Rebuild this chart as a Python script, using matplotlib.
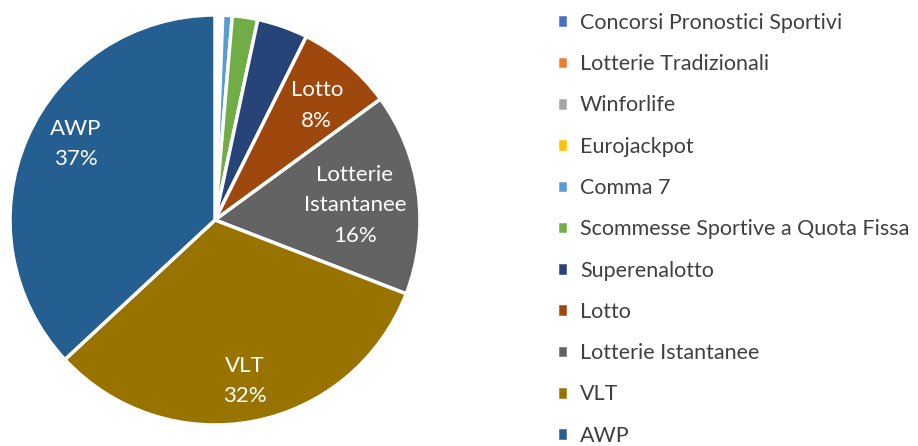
import numpy as np
from matplotlib import pyplot as plt

categories = ['Concorsi Pronostici Sportivi', 'Lotterie Tradizionali', 'Winforlife',
              'Eurojackpot', 'Comma 7', 'Scommesse Sportive a Quota Fissa',
              'Superenalotto', 'Lotto', 'Lotterie Istantanee', 'VLT', 'AWP']
shares = [0.15, 0.05, 0.15, 0.25, 0.75, 2.0, 4.0, 7.6, 15.9, 32.2, 36.9]
labels = {'Lotto': 'Lotto\n8%', 'Lotterie Istantanee': 'Lotterie\nIstantanee\n16%',
          'VLT': 'VLT\n32%', 'AWP': 'AWP\n37%'}
colors = ['#4472C4', '#ED7D31', '#A5A5A5', '#FFC000', '#5B9BD5', '#70AD47',
          '#264478', '#9E480E', '#636363', '#997300', '#255E91']

plt.rcParams['font.family'] = ['Lato', 'DejaVu Sans']

fig = plt.figure(figsize=(9.18, 4.46), dpi=100)
ax = fig.add_axes([10/918, 21/446, 410/918, 410/446])
wedges, _ = ax.pie(shares, colors=colors, startangle=90, counterclock=False,
                   wedgeprops=dict(edgecolor='white', linewidth=2.5))
ax.set_xlim(-1, 1)
ax.set_ylim(-1, 1)
ax.set_aspect('equal')

# label radius and angle nudge (deg) per labelled slice
label_pos = {'Lotto': (0.77, 0), 'Lotterie Istantanee': (0.69, 1),
             'VLT': (0.77, 0), 'AWP': (0.79, -7)}
for w, name in zip(wedges, categories):
    if name in labels:
        r, nudge = label_pos[name]
        mid = np.deg2rad((w.theta1 + w.theta2) / 2 + nudge)
        ax.text(r * np.cos(mid), r * np.sin(mid) - 0.03, labels[name], color='white',
                ha='center', va='center', fontsize=16, linespacing=1.65)

leg = fig.legend(wedges, categories, loc='upper left', bbox_to_anchor=(538/918, 1.015),
                 frameon=False, fontsize=15.5, handlelength=0.5, handleheight=0.6,
                 handletextpad=0.55, labelspacing=0.99, labelcolor='#404040')

fig.savefig('out.png', dpi=100)
